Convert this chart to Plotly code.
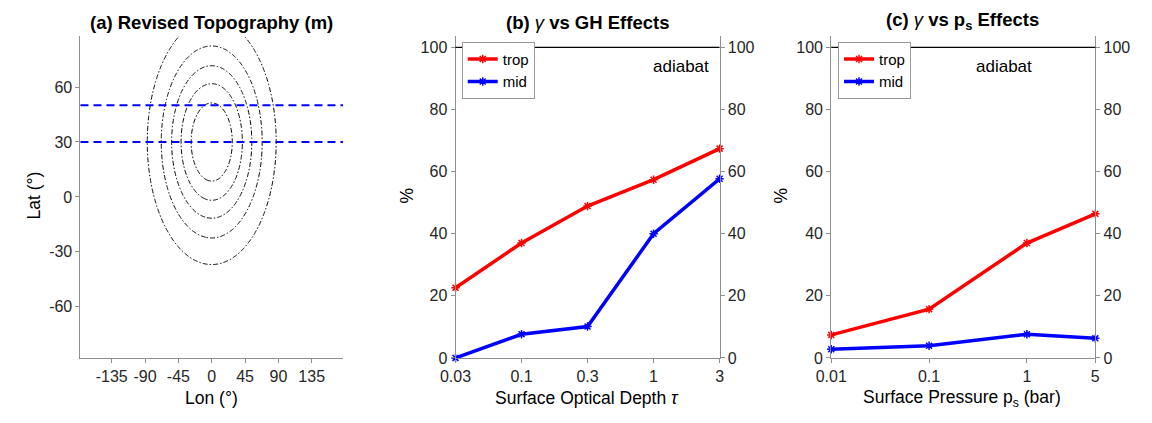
import numpy as np
import plotly.graph_objects as go

# ---------------- data ----------------
# (a) Gaussian mountain: peak height (m), centre and e-folding widths (deg)
peak_height_m = 3000.0
mount_center_lon = 0.0
mount_center_lat = 30.0
mount_width_lon = 65.0
mount_width_lat = 50.0
contour_levels = [500, 1000, 1500, 2000, 2500]
band_lats = [30, 50]
lon_ticks = [-135, -90, -45, 0, 45, 90, 135]
lat_ticks = [-60, -30, 0, 30, 60]

# (b) gamma vs surface optical depth
tau_labels = ["0.03", "0.1", "0.3", "1", "3"]
tau_trop = [22.6, 37.0, 48.9, 57.4, 67.4]
tau_mid = [0.0, 7.6, 10.1, 40.0, 57.7]

# (c) gamma vs surface pressure
ps_values = [0.01, 0.1, 1, 5]
ps_labels = ["0.01", "0.1", "1", "5"]
ps_trop = [7.4, 15.7, 37.0, 46.4]
ps_mid = [2.8, 3.9, 7.6, 6.3]

adiabat_level = 100
pct_ticks = [0, 20, 40, 60, 80, 100]

# ---------------- style ----------------
FONT = "Liberation Sans, Arial, Helvetica, sans-serif"
TXT = "#262626"
AX = "#8f8f8f"
RED = "#ff0000"
BLUE = "#0000ff"
W, H = 1152, 423

dom_y = [0.1355, 0.9132]
dom_a = [0.0570, 0.2891]
dom_b = [0.3886, 0.6221]
dom_c = [0.7208, 0.9543]

lon = np.arange(-180.0, 180.01, 1.0)
lat = np.arange(-90.0, 90.01, 1.0)
LON, LAT = np.meshgrid(lon, lat)
topo = peak_height_m * np.exp(-((LON - mount_center_lon) / mount_width_lon) ** 2
                              - ((LAT - mount_center_lat) / mount_width_lat) ** 2)

fig = go.Figure()

fig.add_trace(go.Contour(
    x=lon, y=lat, z=topo, xaxis="x", yaxis="y",
    contours=dict(start=contour_levels[0], end=contour_levels[-1],
                  size=contour_levels[1] - contour_levels[0], coloring="none"),
    line=dict(color="black", width=1, dash="5px,2px,1.5px,2px"),
    showscale=False, showlegend=False, hoverinfo="skip"))


def series(x, y, color, name, xa, ya, legend):
    return go.Scatter(
        x=x, y=y, mode="lines+markers", name=name, xaxis=xa, yaxis=ya,
        line=dict(color=color, width=3.5),
        marker=dict(symbol="asterisk-open", size=7, color=color,
                    line=dict(color=color, width=1.5)),
        cliponaxis=False, legend=legend)


fig.add_trace(series(tau_labels, tau_trop, RED, "trop", "x2", "y2", "legend"))
fig.add_trace(series(tau_labels, tau_mid, BLUE, "mid", "x2", "y2", "legend"))
fig.add_trace(series(ps_values, ps_trop, RED, "trop", "x3", "y4", "legend2"))
fig.add_trace(series(ps_values, ps_mid, BLUE, "mid", "x3", "y4", "legend2"))

# right-hand duplicate percentage axes (need a trace to be drawn)
for xa, ya, xs in [("x2", "y3", tau_labels[:1]), ("x3", "y5", ps_values[:1])]:
    fig.add_trace(go.Scatter(x=xs, y=[pct_ticks[0]], xaxis=xa, yaxis=ya,
                             mode="markers", marker=dict(opacity=0, size=1),
                             showlegend=False, hoverinfo="skip"))

axis_common = dict(showline=True, linecolor=AX, linewidth=1, ticks="outside",
                   ticklen=4, tickcolor=AX, showgrid=False, zeroline=False,
                   tickangle=0,
                   tickfont=dict(family=FONT, size=16, color=TXT), mirror=False)

pct_range = [0, 103.7]
pct_text = [str(v) for v in pct_ticks]

fig.update_layout(
    width=W, height=H, margin=dict(l=0, r=0, t=0, b=0),
    paper_bgcolor="white", plot_bgcolor="white",
    font=dict(family=FONT, color=TXT),
    xaxis=dict(domain=dom_a, anchor="y", range=[-177.2, 177.2],
               tickvals=lon_ticks, ticktext=[str(v) for v in lon_ticks], **axis_common),
    yaxis=dict(domain=dom_y, anchor="x", range=[-87.9, 87.9],
               tickvals=lat_ticks, ticktext=[str(v) for v in lat_ticks], **axis_common),
    xaxis2=dict(domain=dom_b, anchor="y2", type="category", range=[0, len(tau_labels) - 1],
                **axis_common),
    yaxis2=dict(domain=dom_y, anchor="x2", range=pct_range, tickvals=pct_ticks,
                ticktext=pct_text, **axis_common),
    yaxis3=dict(anchor="x2", overlaying="y2", side="right", range=pct_range,
                tickvals=pct_ticks, ticktext=pct_text, **axis_common),
    xaxis3=dict(domain=dom_c, anchor="y4", type="log",
                range=[np.log10(ps_values[0]), np.log10(ps_values[-1])],
                tickvals=ps_values, ticktext=ps_labels, **axis_common),
    yaxis4=dict(domain=dom_y, anchor="x3", range=pct_range, tickvals=pct_ticks,
                ticktext=pct_text, **axis_common),
    yaxis5=dict(anchor="x3", overlaying="y4", side="right", range=pct_range,
                tickvals=pct_ticks, ticktext=pct_text, **axis_common),
    legend=dict(x=454 / W, y=1 - 42.7 / H, xanchor="left", yanchor="top",
                bgcolor="white", bordercolor="#9a9a9a", borderwidth=1,
                font=dict(family=FONT, size=15, color="black"),
                itemwidth=30, tracegroupgap=0),
    legend2=dict(x=837.3 / W, y=1 - 42.7 / H, xanchor="left", yanchor="top",
                 bgcolor="white", bordercolor="#9a9a9a", borderwidth=1,
                 font=dict(family=FONT, size=15, color="black"),
                 itemwidth=30, tracegroupgap=0),
)

shapes = []
for b in band_lats:
    shapes.append(dict(type="line", xref="x domain", yref="y", x0=0, x1=1, y0=b, y1=b,
                       line=dict(color=BLUE, width=2, dash="8px,5px")))
for ya, xa in [("y2", "x2 domain"), ("y4", "x3 domain")]:
    shapes.append(dict(type="line", xref=xa, yref=ya, x0=0, x1=1,
                       y0=adiabat_level, y1=adiabat_level,
                       line=dict(color="black", width=1.2)))
fig.update_layout(shapes=shapes)

ann = []


def text(x, y, s, size, angle=0, xref="paper", yref="paper"):
    ann.append(dict(x=x, y=y, xref=xref, yref=yref, text=s, showarrow=False,
                    textangle=angle, xanchor="center", yanchor="middle",
                    font=dict(family=FONT, size=size, color="black")))


# panel titles
text(199.3 / W, 1 - 23 / H, "<b>(a) Revised Topography (m)</b>", 18.5)
text(582 / W, 1 - 23 / H, "<b>(b) </b><i>γ</i><b> vs GH Effects</b>", 18.5)
text(964.5 / W, 1 - 21 / H, "<b>(c) </b><i>γ</i><b> vs p<sub>s</sub> Effects</b>", 18.5)

# axis labels
text(199.3 / W, 1 - 407 / H, "Lon (°)", 17.5)
text(18 / W, 1 - 200 / H, "Lat (°)", 17.5, angle=-90)
text(582 / W, 1 - 407 / H, "Surface Optical Depth <i>τ</i>", 17.5)
text(398 / W, 1 - 200 / H, "%", 17.5, angle=-90)
text(964 / W, 1 - 407 / H, "Surface Pressure p<sub>s</sub> (bar)", 17.5)
text(779 / W, 1 - 200 / H, "%", 17.5, angle=-90)

# adiabat markers
text(0.855, 93.7, "adiabat", 17, xref="x2 domain", yref="y2")
text(0.655, 93.7, "adiabat", 17, xref="x3 domain", yref="y4")

fig.update_layout(annotations=ann)

fig.write_html("out.html")
